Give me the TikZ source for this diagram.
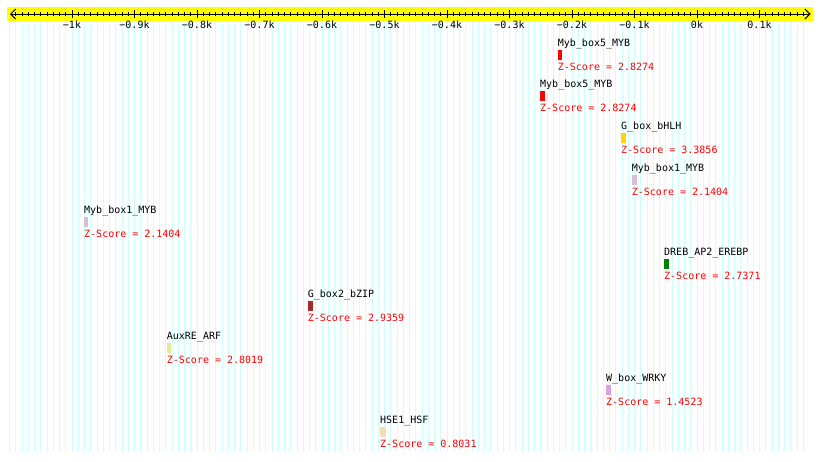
\documentclass[tikz,border=0pt]{standalone}
\usepackage{fontspec}
\setmonofont{DejaVu Sans Mono}
\usetikzlibrary{arrows.meta,positioning}
\definecolor{bandyellow}{HTML}{FFFF00}
\definecolor{gridcyan}{HTML}{CCFFFF}
\definecolor{zred}{HTML}{FF0000}
\definecolor{mybred}{HTML}{FF0000}
\definecolor{bhlhgold}{HTML}{FFD700}
\definecolor{mybthistle}{HTML}{D8BFD8}
\definecolor{drebgreen}{HTML}{008000}
\definecolor{bzipbrown}{HTML}{A52A2A}
\definecolor{arfkhaki}{HTML}{F0E68C}
\definecolor{wrkyplum}{HTML}{DDA0DD}
\definecolor{hsfwheat}{HTML}{F5DEB3}

\begin{document}
\begin{tikzpicture}[x=1pt, y=-1pt,
    site/.style={rectangle, draw=none, inner sep=0pt, minimum height=10pt, anchor=north west},
    tfname/.style={inner sep=0pt, font=\ttfamily\fontsize{10}{10}\selectfont},
    zscore/.style={tfname, text=zred},
    ticklab/.style={inner sep=0pt, font=\ttfamily\fontsize{10}{10}\selectfont, anchor=base},
    gridline/.style={draw=gridcyan, line width=1pt},
    axisline/.style={draw=black, line width=1pt},
    barb/.style={Straight Barb[length=5pt, width=10pt]}]
      % Frame
      \fill[white] (0,0) rectangle (820,461);
      \useasboundingbox (0,0) rectangle (820,461);

      % Grid
      \foreach \t in {-1100,-1090,...,170}
        \draw[gridline] ({697+0.625*\t},21) -- ++(0,431);

      % Axis band
      \fill[bandyellow] (7,7) rectangle (813,21);
      \coordinate (axL) at (10,14);
      \coordinate (axR) at (810.5,14);
      \draw[axisline, {Straight Barb[length=5pt, width=10pt]}-{Straight Barb[length=5pt, width=10pt]}] (axL) -- (axR);

      % Ticks
      \foreach \t in {-1090,-1080,...,170}
        \draw[axisline] ({697+0.625*\t},12) -- ++(0,4);
      \foreach \t/\lab [count=\i] in {-1000/−1k,-900/−0.9k,-800/−0.8k,-700/−0.7k,-600/−0.6k,
          -500/−0.5k,-400/−0.4k,-300/−0.3k,-200/−0.2k,-100/−0.1k,0/0k,100/0.1k}{
        \draw[axisline] ({697+0.625*\t},10) -- ++(0,8);
        \node[ticklab] (tick\i) at ({697+0.625*\t},28.3) {\lab};
      }

      % Myb_box5_MYB
      \node[site, fill=mybred, minimum width=4.5pt] (s1) at (557.7,50) {};
      \node[tfname, above=3.5pt of s1.north west, anchor=base west] (n1) {Myb\_box5\_MYB};
      \node[zscore, below=10.5pt of s1.south west, anchor=base west] (z1) {Z-Score = 2.8274};

      % Myb_box5_MYB
      \node[site, fill=mybred, minimum width=4.7pt] (s2) at (540,91) {};
      \node[tfname, above=3.5pt of s2.north west, anchor=base west] (n2) {Myb\_box5\_MYB};
      \node[zscore, below=10.5pt of s2.south west, anchor=base west] (z2) {Z-Score = 2.8274};

      % G_box_bHLH
      \node[site, fill=bhlhgold, minimum width=5pt] (s3) at (621,133) {};
      \node[tfname, above=3.5pt of s3.north west, anchor=base west] (n3) {G\_box\_bHLH};
      \node[zscore, below=10.5pt of s3.south west, anchor=base west] (z3) {Z-Score = 3.3856};

      % Myb_box1_MYB
      \node[site, fill=mybthistle, minimum width=5pt] (s4) at (631.7,175) {};
      \node[tfname, above=3.5pt of s4.north west, anchor=base west] (n4) {Myb\_box1\_MYB};
      \node[zscore, below=10.5pt of s4.south west, anchor=base west] (z4) {Z-Score = 2.1404};

      % Myb_box1_MYB
      \node[site, fill=mybthistle, minimum width=4pt] (s5) at (84,217) {};
      \node[tfname, above=3.5pt of s5.north west, anchor=base west] (n5) {Myb\_box1\_MYB};
      \node[zscore, below=10.5pt of s5.south west, anchor=base west] (z5) {Z-Score = 2.1404};

      % DREB_AP2_EREBP
      \node[site, fill=drebgreen, minimum width=4.7pt] (s6) at (664,259) {};
      \node[tfname, above=3.5pt of s6.north west, anchor=base west] (n6) {DREB\_AP2\_EREBP};
      \node[zscore, below=10.5pt of s6.south west, anchor=base west] (z6) {Z-Score = 2.7371};

      % G_box2_bZIP
      \node[site, fill=bzipbrown, minimum width=5pt] (s7) at (307.7,301) {};
      \node[tfname, above=3.5pt of s7.north west, anchor=base west] (n7) {G\_box2\_bZIP};
      \node[zscore, below=10.5pt of s7.south west, anchor=base west] (z7) {Z-Score = 2.9359};

      % AuxRE_ARF
      \node[site, fill=arfkhaki, minimum width=4.3pt] (s8) at (166.7,343) {};
      \node[tfname, above=3.5pt of s8.north west, anchor=base west] (n8) {AuxRE\_ARF};
      \node[zscore, below=10.5pt of s8.south west, anchor=base west] (z8) {Z-Score = 2.8019};

      % W_box_WRKY
      \node[site, fill=wrkyplum, minimum width=4.7pt] (s9) at (606,385) {};
      \node[tfname, above=3.5pt of s9.north west, anchor=base west] (n9) {W\_box\_WRKY};
      \node[zscore, below=10.5pt of s9.south west, anchor=base west] (z9) {Z-Score = 1.4523};

      % HSE1_HSF
      \node[site, fill=hsfwheat, minimum width=5.7pt] (s10) at (380,427) {};
      \node[tfname, above=3.5pt of s10.north west, anchor=base west] (n10) {HSE1\_HSF};
      \node[zscore, below=10.5pt of s10.south west, anchor=base west] (z10) {Z-Score = 0.8031};
    \end{tikzpicture}
\end{document}
